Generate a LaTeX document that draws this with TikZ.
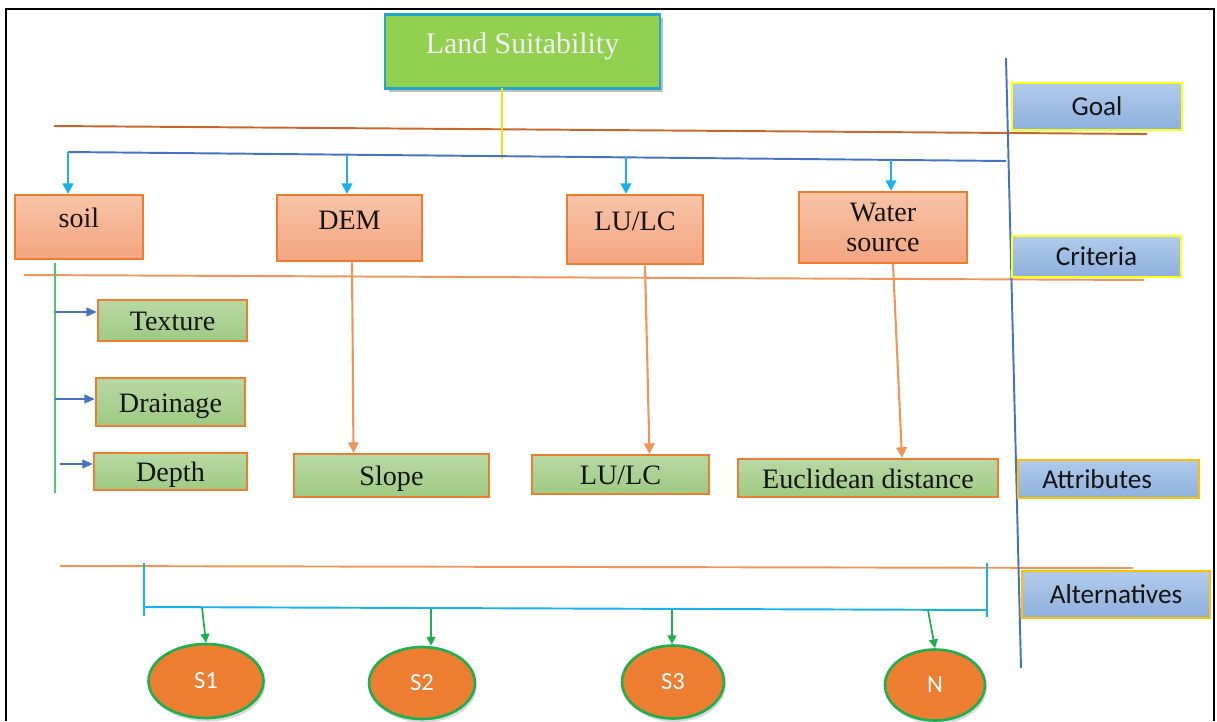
\documentclass[tikz,border=0pt]{standalone}
\usepackage{fontspec}
\setmainfont{Liberation Serif}
\newfontfamily\calfont{Carlito}
\usepackage{tikz}
\usetikzlibrary{arrows.meta,shapes.geometric,shadows}

\definecolor{landgreen}{HTML}{92D050}
\definecolor{landcyan}{HTML}{23A7C9}
\definecolor{darkorange}{HTML}{C8662A}
\definecolor{lineblue}{HTML}{4472C4}
\definecolor{arrowcyan}{HTML}{18B1EC}
\definecolor{boxorange}{HTML}{ED7D31}
\definecolor{lightorange}{HTML}{F0945A}
\definecolor{crittop}{HTML}{F7C4A8}
\definecolor{critbot}{HTML}{F4A47F}
\definecolor{attrtop}{HTML}{B8D9A5}
\definecolor{attrbot}{HTML}{9ECA82}
\definecolor{labtop}{HTML}{B2CBEA}
\definecolor{labbot}{HTML}{8DB0DD}
\definecolor{labyellow}{HTML}{FFFF1A}
\definecolor{labgold}{HTML}{FFC000}
\definecolor{bargreen}{HTML}{4CC77A}
\definecolor{arrowgreen}{HTML}{1DB04E}
\definecolor{circorange}{HTML}{EC7D31}
\definecolor{inktext}{HTML}{141414}

\begin{document}
\begin{tikzpicture}[x=0.02cm, y=-0.02cm,
  crit/.style={draw=boxorange, line width=1.3pt, top color=crittop, bottom color=critbot,
    font=\fontsize{16}{17}\selectfont, text=inktext, inner sep=0pt},
  attr/.style={draw=boxorange, line width=1.3pt, top color=attrtop, bottom color=attrbot,
    font=\fontsize{16}{17}\selectfont, text=inktext, inner sep=0pt, text height=12pt, text depth=0.5pt},
  lab/.style={draw=labyellow, line width=1.4pt, top color=labtop, bottom color=labbot,
    font=\calfont\fontsize{15.5}{18}\selectfont, text=inktext, inner sep=0pt, text height=11.5pt, text depth=1pt},
  alt/.style={ellipse, draw=arrowgreen, line width=1.5pt, fill=circorange, text=white,
    font=\calfont\fontsize{14}{16}\selectfont, inner sep=0pt,
    drop shadow={opacity=0.3, shadow xshift=1pt, shadow yshift=-2pt}},
  cyanarr/.style={arrowcyan, line width=1.2pt, -{Triangle[width=6pt,length=6pt]}},
  orangearr/.style={lightorange, line width=1.2pt, -{Triangle[width=6pt,length=6pt]}},
  bluearr/.style={lineblue, line width=0.9pt, -{Triangle[width=5pt,length=6pt]}},
  greenarr/.style={arrowgreen, line width=1pt, -{Triangle[width=5pt,length=5pt]}}]

\useasboundingbox (0,0) rectangle (1217,721);

% frame
\draw[line width=1.6pt] (6,721) -- (6,9) -- (1214,9) -- (1214,721);

% level lines
\draw[darkorange, line width=1.1pt] (54,126) -- (1147,134);
\draw[lightorange, line width=1.1pt] (24,275) -- (1144,280);
\draw[lightorange, line width=1.1pt] (60,566) -- (1133,568);

% goal
\node[draw=landcyan, line width=1.6pt, fill=landgreen, text=white!95!black, inner sep=0pt,
  minimum width=5.5cm, anchor=north, text height=0.78cm, text depth=0.7cm,
  font=\fontsize{17}{20}\selectfont,
  drop shadow={opacity=0.5, shadow xshift=2pt, shadow yshift=-2pt}] (land) at (522.5,13) {Land Suitability};

\coordinate (Y1) at (502,88);
\coordinate (Y2) at (502,159);
\draw[yellow!80!orange, line width=1.1pt] (Y1) -- (Y2);

% blue lines
\coordinate (B1) at (68,152);
\coordinate (B2) at (1006,161);
\coordinate (V1) at (1006,58);
\coordinate (V2) at (1021,668);
\draw[lineblue, line width=1.1pt] (B1) -- (B2);
\draw[lineblue, line width=1.1pt] (V1) -- (V2);

% criteria
\node[crit, minimum width=2.56cm, anchor=north, text height=0.64cm, text depth=0.64cm] (soil) at (79,194) {soil};
\node[crit, minimum width=2.9cm, anchor=north, text height=0.68cm, text depth=0.64cm] (dem) at (349.5,194) {DEM};
\node[crit, minimum width=2.72cm, anchor=north, text height=0.7cm, text depth=0.68cm] (lulc) at (635,194) {LU/LC};
\node[crit, minimum width=3.36cm, minimum height=1.42cm, align=center] (water) at (883,227.5) {Water\\source};

\coordinate (A1) at (68,152);
\coordinate (A2) at (347,155);
\coordinate (A3) at (626,157);
\coordinate (A4) at (891,160);
\draw[cyanarr] (A1) -- (A1 |- soil.north);
\draw[cyanarr] (A2) -- (A2 |- dem.north);
\draw[cyanarr] (A3) -- (A3 |- lulc.north);
\draw[cyanarr] (A4) -- (A4 |- water.north);

% attributes
\node[attr, minimum width=2.98cm, minimum height=0.82cm] (texture) at (172.5,320.5) {Texture};
\node[attr, minimum width=2.98cm, minimum height=0.96cm] (drainage) at (170.5,402) {Drainage};
\node[attr, minimum width=3.06cm, minimum height=0.74cm] (depth) at (170.5,471.5) {Depth};
\node[attr, minimum width=3.9cm, minimum height=0.86cm] (slope) at (391.5,475.5) {Slope};
\node[attr, minimum width=3.54cm, minimum height=0.78cm] (lulcb) at (620.5,474.5) {LU/LC};
\node[attr, minimum width=5.2cm, minimum height=0.76cm] (eucl) at (868,478) {Euclidean distance};

\coordinate (G1) at (55,263);
\coordinate (G2) at (55,493);
\draw[bargreen, line width=1.6pt] (G1) -- (G2);

\coordinate (T1) at (55,312);
\coordinate (T2) at (55,399);
\coordinate (T3) at (60,464);
\draw[bluearr] (T1) -- (T1 -| texture.west);
\draw[bluearr] (T2) -- (T2 -| drainage.west);
\draw[bluearr] (T3) -- (T3 -| depth.west);

\draw[orangearr] ([xshift=0.05cm]dem.south) -- ([xshift=-0.76cm]slope.north);
\draw[orangearr] ([xshift=0.2cm]lulc.south) -- ([xshift=0.58cm]lulcb.north);
\draw[orangearr] ([xshift=0.2cm]water.south) -- ([xshift=0.68cm]eucl.north);

% side labels
\node[lab, minimum width=3.4cm, minimum height=0.94cm] (goal) at (1097,106.5) {Goal};
\node[lab, minimum width=3.38cm, minimum height=0.82cm] (criteria) at (1096.5,256.5) {Criteria};
\node[lab, draw=labgold, minimum width=3.62cm, minimum height=0.76cm] (attributes) at (1108.5,479) {Attributes\hspace*{0.45cm}};
\node[lab, draw=labgold, minimum width=3.76cm, minimum height=0.94cm] (alternatives) at (1116,594.5) {Alternatives};

% alternatives
\coordinate (L1) at (144,563);
\coordinate (L2) at (144,616);
\coordinate (H1) at (144,607);
\coordinate (H2) at (987,610);
\coordinate (R1) at (987,563);
\coordinate (R2) at (987,617);
\draw[arrowcyan, line width=1.1pt] (L1) -- (L2);
\draw[arrowcyan, line width=1.1pt] (H1) -- (H2);
\draw[arrowcyan, line width=1.1pt] (R1) -- (R2);

\node[alt, minimum width=2.3cm, minimum height=1.48cm] (s1) at (206,681) {S1};
\node[alt, minimum width=2.12cm, minimum height=1.44cm] (s2) at (422,683) {S2};
\node[alt, minimum width=2.04cm, minimum height=1.46cm] (s3) at (673,682) {S3};
\node[alt, minimum width=2.0cm, minimum height=1.42cm] (n) at (935,685) {N};

\coordinate (C1) at (202,607.5);
\coordinate (C2) at (431,608.5);
\coordinate (C3) at (672,609);
\coordinate (C4) at (928,610);
\draw[greenarr] (C1) -- (s1.north);
\draw[greenarr] (C2) -- (C2 |- s2.north);
\draw[greenarr] (C3) -- (C3 |- s3.north);
\draw[greenarr] (C4) -- (n.north);

\end{tikzpicture}
\end{document}
